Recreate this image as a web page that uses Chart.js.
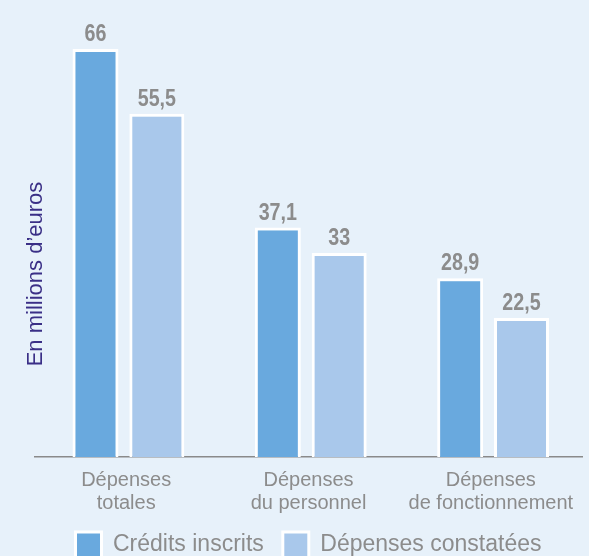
<!DOCTYPE html>
<html lang="fr">
<head>
<meta charset="utf-8">
<script src="https://cdn.jsdelivr.net/npm/chart.js@4/dist/chart.umd.min.js"></script>
<style>
  html, body { margin: 0; padding: 0; background: #e7f1fa; overflow: hidden; }
  #wrap { width: 589px; height: 568px; }
</style>
</head>
<body>
<div id="wrap"><canvas id="depenses"></canvas></div>
<script>
const categories = [
  ['Dépenses', 'totales'],
  ['Dépenses', 'du personnel'],
  ['Dépenses', 'de fonctionnement']
];
const creditsInscrits = [66, 37.1, 28.9];
const depensesConstatees = [55.5, 33, 22.5];
const yTitle = 'En millions d\u2019euros';

const grey = '#8c8c8c';
const font = '"Liberation Sans", Arial, sans-serif';

// values above the bars (french decimal comma), squeezed a little
const valueLabels = {
  id: 'valueLabels',
  afterDatasetsDraw(chart) {
    const ctx = chart.ctx;
    chart.data.datasets.forEach((ds, i) => {
      chart.getDatasetMeta(i).data.forEach((bar, j) => {
        ctx.save();
        ctx.translate(bar.x, bar.y - 8);
        ctx.scale(0.82, 1);
        ctx.font = 'bold 24px ' + font;
        ctx.fillStyle = grey;
        ctx.textAlign = 'center';
        ctx.textBaseline = 'alphabetic';
        ctx.fillText(String(ds.data[j]).replace('.', ','), 0, 0);
        ctx.restore();
      });
    });
  }
};

// vertical unit title on the left
const unitTitle = {
  id: 'unitTitle',
  afterDraw(chart) {
    const ctx = chart.ctx;
    ctx.save();
    ctx.translate(36, 274);
    ctx.rotate(-Math.PI / 2);
    ctx.font = '22px ' + font;
    ctx.fillStyle = '#3a2f86';
    ctx.textAlign = 'center';
    ctx.textBaseline = 'middle';
    ctx.fillText(yTitle, 0, 0);
    ctx.restore();
  }
};

const data = {
  labels: categories,
  datasets: [{
    label: 'Crédits inscrits',
    data: creditsInscrits,
    backgroundColor: '#69a9de',
    borderColor: '#ffffff',
    borderWidth: 3,
    maxBarThickness: 46
  }, {
    label: 'Dépenses constatées',
    data: depensesConstatees,
    backgroundColor: '#a9c8eb',
    borderColor: '#ffffff',
    borderWidth: 3,
    maxBarThickness: 55
  }]
};

const config = {
  type: 'bar',
  data: data,
  options: {
    responsive: true,
    maintainAspectRatio: false,
    animation: false,
    categoryPercentage: 0.673,
    barPercentage: 1,
    layout: { padding: { top: 18, left: 35, right: 7, bottom: 0 } },
    scales: {
      x: {
        grid: { display: false },
        border: { display: true, color: '#8a8a8a', width: 1.5 },
        ticks: {
          color: grey,
          padding: 4,
          font: { family: font, size: 20, lineHeight: 1.15 }
        },
        // keep the legend close under the two-line labels
        afterFit(scale) { scale.height = 56; }
      },
      y: {
        display: false,
        min: 0,
        max: 71
      }
    },
    plugins: {
      tooltip: { enabled: false },
      legend: {
        position: 'bottom',
        labels: {
          color: grey,
          boxWidth: 26,
          boxHeight: 26,
          padding: 19,
          font: { family: font, size: 23 }
        }
      }
    }
  },
  plugins: [valueLabels, unitTitle]
};

new Chart(document.getElementById('depenses'), config);
</script>
</body>
</html>
